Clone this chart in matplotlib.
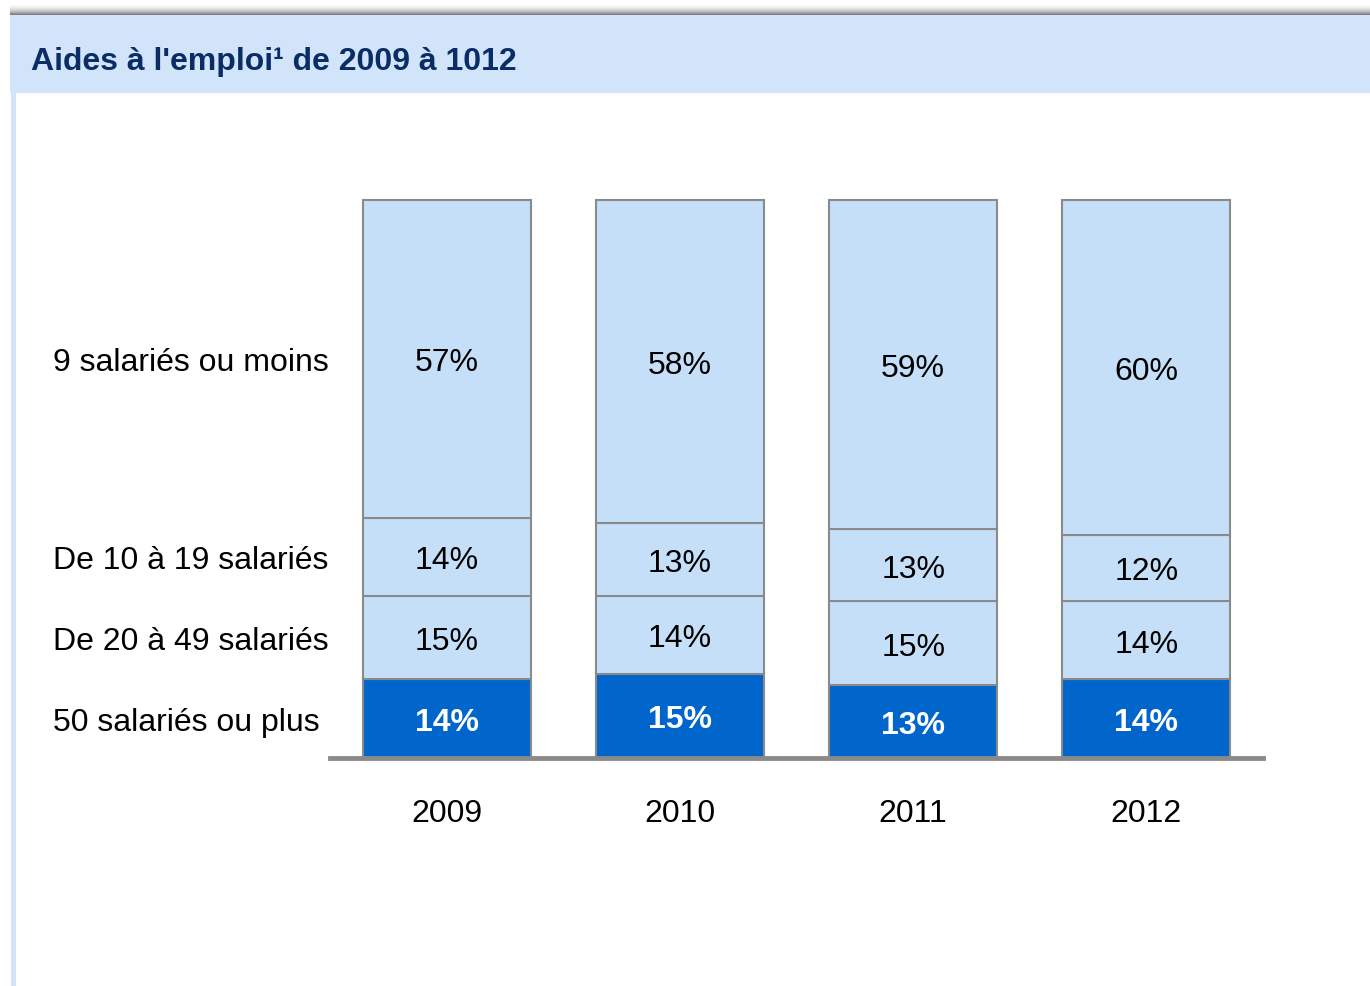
import numpy as np
import matplotlib
matplotlib.use("Agg")
import matplotlib.pyplot as plt
import matplotlib.transforms as mtransforms
from matplotlib.patches import Rectangle

plt.rcParams['font.family'] = ['Liberation Sans', 'DejaVu Sans']

# ---- data ----
years = ['2009', '2010', '2011', '2012']
categories = ['50 salariés ou plus', 'De 20 à 49 salariés', 'De 10 à 19 salariés', '9 salariés ou moins']
v_50plus = [14, 15, 13, 14]
v_20_49 = [15, 14, 15, 14]
v_10_19 = [14, 13, 13, 12]
v_9moins = [57, 58, 59, 60]
series = [v_50plus, v_20_49, v_10_19, v_9moins]
title = "Aides à l'emploi¹ de 2009 à 1012"

W, H = 1370, 987
fig = plt.figure(figsize=(W / 100, H / 100), dpi=100)

def fx(px):
    return px / W

def fy(py):
    return 1 - py / H

# header decoration: grey shadow gradient above the band
grad_ax = fig.add_axes([fx(10), fy(16), fx(W - 10), (16 - 5) / H])
grad = np.linspace(0.0, 1.0, 64).reshape(-1, 1) ** 1.3
grad_ax.imshow(grad, aspect='auto', cmap='Greys', vmin=0.0, vmax=1.65,
               extent=[0, 1, 0, 1], origin='upper', interpolation='bilinear')
grad_ax.axis('off')
fig.patches.append(Rectangle((fx(10), fy(94)), fx(W - 10), (94 - 16) / H,
                             transform=fig.transFigure, facecolor='#D1E4FA',
                             edgecolor='none', zorder=0))
fig.patches.append(Rectangle((fx(11), 0), fx(4.5), fy(94),
                             transform=fig.transFigure, facecolor='#D1E4FA',
                             edgecolor='none', zorder=0))
fig.text(fx(31), fy(59), title, fontsize=23, fontweight='bold',
         color='#0B2D66', va='center_baseline', ha='left')

# chart axes
ax = fig.add_axes([fx(330), fy(758.5), fx(1263 - 330), (758.5 - 201) / H])
ax.set_xlim(-0.5, 3.5)
ax.set_ylim(0, 100)
ax.axis('off')

x = np.arange(len(years))
light = '#C6DFF8'
dark = '#0066CC'
edge = '#8A8A8A'
colors = [dark, light, light, light]
trans = mtransforms.blended_transform_factory(fig.transFigure, ax.transData)
bottom = np.zeros(len(years))
for i, vals in enumerate(series):
    vals = np.array(vals, dtype=float)
    ax.bar(x, vals, bottom=bottom, width=0.72, color=colors[i],
           edgecolor=edge, linewidth=1.5, clip_on=False, zorder=2)
    for xi, b, v in zip(x, bottom, vals):
        if i == 0:
            ax.text(xi, b + v / 2, f'{int(v)}%', ha='center', va='center_baseline',
                    fontsize=23, fontweight='bold', color='white', zorder=3)
        else:
            ax.text(xi, b + v / 2, f'{int(v)}%', ha='center', va='center_baseline',
                    fontsize=23, color='black', zorder=3)
    # category label at first bar's segment middle
    ax.text(fx(53), bottom[0] + vals[0] / 2, categories[i], transform=trans,
            ha='left', va='center_baseline', fontsize=23, color='black')
    bottom = bottom + vals

ax.axhline(0, color='#8A8A8A', linewidth=3.5, clip_on=False, zorder=4)

trans_x = mtransforms.blended_transform_factory(ax.transData, fig.transFigure)
for xi, yr in zip(x, years):
    ax.text(xi, fy(811), yr, transform=trans_x, ha='center', va='center_baseline',
            fontsize=23, color='black')

fig.savefig('out.png', dpi=100, facecolor='white')
